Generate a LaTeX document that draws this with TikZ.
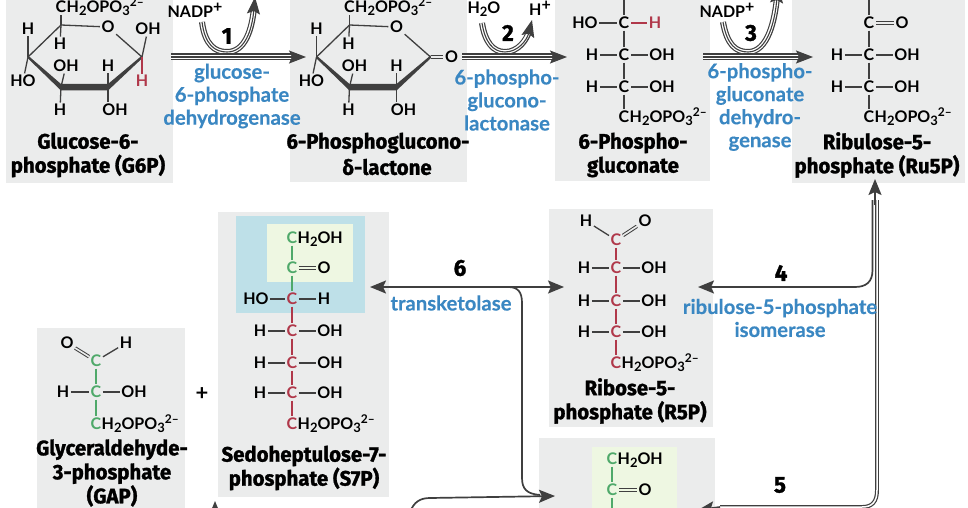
\documentclass[tikz,border=0pt]{standalone}
\usepackage{fontspec}
\usetikzlibrary{arrows.meta}
\setmainfont{Lato}
\newfontfamily\namefam[FakeBold=1.3,FakeStretch=0.97]{Fira Sans}
\newfontfamily\atomfam{Lato}
\newfontfamily\enzfam[FakeBold=0.3]{Lato}
\definecolor{dk}{HTML}{3F3F3F}
\definecolor{panelgray}{HTML}{EBECEC}
\definecolor{enz}{HTML}{3A87C2}
\definecolor{redc}{HTML}{B0384A}
\definecolor{greenc}{HTML}{4FA96A}
\definecolor{hlblue}{HTML}{BEE0E8}
\definecolor{hlgreen}{HTML}{EEF7E2}
\newcommand{\lowr}[1]{\raisebox{-3pt}{\fontsize{13}{13}\selectfont #1}}
\newcommand{\upr}{\raisebox{6pt}{\fontsize{12}{12}\selectfont 2–}}
\tikzset{
 x=1pt,y=-1pt,
 panel/.style={fill=panelgray,draw=none,inner sep=0,outer sep=0},
 hl/.style={draw=none,inner sep=0,outer sep=0},
 atomstyle/.style={font=\atomfam\fontsize{16}{16}\selectfont\bfseries,text=black,inner sep=1.5pt},
 bond/.style={draw=dk,line width=1.3pt},
 dbl/.style={draw=dk,line width=1pt,double=panelgray,double distance=1.6pt},
 namefont/.style={font=\namefam\fontsize{21}{24}\selectfont\bfseries,align=center,text=black,inner sep=0},
 enzyme/.style={font=\enzfam\fontsize{20.3}{23}\selectfont\bfseries,align=center,text=enz,inner sep=0},
 stepnum/.style={font=\namefam\fontsize{23}{23}\selectfont\bfseries,text=black,inner sep=0},
 tri/.style={draw=dk,line width=1.1pt,-{Stealth[length=17pt,width=13pt,inset=3pt]},
   preaction={draw=dk,line width=#1,arrows=-,shorten >=10pt},
   preaction={draw=white,line width=#1-2.4pt,arrows=-,shorten >=8pt}},
 conn/.style={draw=dk,line width=1.7pt},
 tipped/.style={-{Stealth[length=16pt,width=13pt,inset=3pt]}},
}
\newcommand{\panelbox}[6][panel,fill=panelgray]{%
 \pgfmathsetmacro\pw{#5-#3}\pgfmathsetmacro\ph{#6-#4}%
 \node[#1,minimum width=\pw pt,minimum height=\ph pt] (#2) at ({(#3+#5)/2},{(#4+#6)/2}) {};}
\newcommand{\atom}[5][black]{\node[atomstyle,text=#1] (#2) at (#3,#4) {#5};}
\newcommand{\bnd}[3][dk]{\draw[bond,draw=#1] (#2) -- (#3);}
\newcommand{\chgroup}[5][black]{%
 \node[atomstyle,text=#1] (#2) at (#3,#4) {C};
 \node[atomstyle,anchor=base west,inner sep=0] (#2r) at ([xshift=-1.5pt]#2.base east) {#5};}
\newcommand{\ringmol}[1]{%
 \coordinate (#1c1) at (61,25);
 \coordinate (#1c2) at (28,57);
 \coordinate (#1c3) at (61,87);
 \coordinate (#1c4) at (108,87);
 \coordinate (#1c5) at (142,57);
 \fill[dk] (28,55.5) -- (61,84) -- (108,84) -- (142,55.5) -- (142.5,58) -- (108,90.5) -- (61,90.5) -- (27.5,58) -- cycle;
 \atom{#1o}{108}{27}{O}
 \atom{#1a}{28}{29}{H}
 \atom{#1b}{60}{44}{H}
 \atom{#1d}{66}{66}{OH}
 \atom{#1e}{108}{66}{H}
 \atom{#1f}{23}{81}{HO}
 \atom{#1g}{60}{110}{H}
 \atom{#1i}{115}{110}{OH}
 \chgroup{#1ch}{61}{7}{H\lowr{2}OPO\lowr{3}\upr}
 \bnd{#1c1}{#1c2}
 \bnd{#1c1}{#1o}
 \bnd{#1o}{#1c5}
 \bnd{#1c1}{#1ch}
 \bnd{#1c1}{#1b}
 \bnd{#1c2}{#1a}
 \bnd{#1c2}{#1f}
 \bnd{#1c3}{#1d}
 \bnd{#1c3}{#1g}
 \bnd{#1c4}{#1e}
 \draw[bond] (#1c4) -- (#1c4 |- #1i.north);
}
\begin{document}
\begin{tikzpicture}
\fill[white] (0,0) rectangle (968,508);
\useasboundingbox (0,0) rectangle (968,508);
\clip (0,0) rectangle (968,508);
% panels
\panelbox{g6p}{6}{0}{173}{183}
\panelbox{pgl}{290}{0}{467}{182}
\panelbox{pg}{555}{0}{710}{181}
\panelbox{ru5p}{792}{0}{965}{183}
\panelbox{gap}{37}{328}{185}{520}
\panelbox{s7p}{218}{212}{389}{497}
\panelbox[hl,fill=hlblue]{s7pb}{236}{216}{365}{313}
\panelbox[hl,fill=hlgreen]{s7pg}{267}{224}{353}{282}
\panelbox{r5p}{549}{209}{713}{427}
\panelbox{xp}{539}{438}{715}{520}
\panelbox[hl,fill=hlgreen]{xpg}{592}{447}{677}{520}
% G6P
\ringmol{m}
\atom{moh}{148}{29}{OH}
\atom[redc]{mrh}{142}{81}{H}
\bnd{mc5}{moh}
\bnd[redc]{mc5}{mrh}
\node[namefont] (g6pn) at (88,155) {Glucose-6-\\phosphate (G6P)};
% 6PGL
\begin{scope}[shift={(288.5,0)}]
\ringmol{n}
\atom{nco}{163}{57}{O}
\draw[dbl] (nc5) -- (nco);
\end{scope}
\node[namefont] (pgln1) at (378,143) {6-Phosphoglucono-};
\node[namefont] (pgln2) at (387,167) {δ-lactone};
% 6PG
\coordinate (pgtop) at (624,0);
\atom{pa1}{585}{23}{HO}\atom{pc1}{624}{23}{C}\atom[redc]{pb1}{655}{23}{H}
\atom{pa2}{592}{55}{H}\atom{pc2}{624}{55}{C}\atom{pb2}{662}{55}{OH}
\atom{pa3}{592}{87}{H}\atom{pc3}{624}{87}{C}\atom{pb3}{662}{87}{OH}
\chgroup{pc4}{624}{117}{H\lowr{2}OPO\lowr{3}\upr}
\bnd{pgtop}{pc1}\bnd{pc1}{pc2}\bnd{pc2}{pc3}\bnd{pc3}{pc4}
\bnd{pa1}{pc1}\bnd[redc]{pc1}{pb1}\bnd{pa2}{pc2}\bnd{pc2}{pb2}\bnd{pa3}{pc3}\bnd{pc3}{pb3}
\node[namefont] (pgn) at (633,155) {6-Phospho-\\gluconate};
% Ru5P
\chgroup{rc0}{869}{-9}{H\lowr{2}OH}
\atom{rc1}{869}{23}{C}\atom{ro}{902}{23}{O}
\atom{ra2}{837}{55}{H}\atom{rc2}{869}{55}{C}\atom{rb2}{907}{55}{OH}
\atom{ra3}{837}{87}{H}\atom{rc3}{869}{87}{C}\atom{rb3}{907}{87}{OH}
\chgroup{rc4}{869}{117}{H\lowr{2}OPO\lowr{3}\upr}
\bnd{rc0}{rc1}\bnd{rc1}{rc2}\bnd{rc2}{rc3}\bnd{rc3}{rc4}
\draw[dbl] (rc1) -- (ro);
\bnd{ra2}{rc2}\bnd{rc2}{rb2}\bnd{ra3}{rc3}\bnd{rc3}{rb3}
\node[namefont] (rn) at (877,155) {Ribulose-5-\\phosphate (Ru5P)};
% GAP
\atom{go}{67}{343}{O}\atom{gh}{126}{343}{H}\atom[greenc]{gc1}{96}{361}{C}
\atom{ga2}{63}{392}{H}\atom[greenc]{gc2}{96}{392}{C}\atom{gb2}{134}{392}{OH}
\chgroup[greenc]{gc3}{96}{424}{H\lowr{2}OPO\lowr{3}\upr}
\draw[dbl] (gc1) -- (go);
\bnd{gc1}{gh}\bnd[greenc]{gc1}{gc2}\bnd[greenc]{gc2}{gc3}\bnd{ga2}{gc2}\bnd{gc2}{gb2}
\node[namefont] (gapn) at (112,473) {Glyceraldehyde-\\3-phosphate\\(GAP)};
\node[font=\atomfam\fontsize{22}{22}\selectfont\bfseries,inner sep=0] (plus) at (202,394) {+};
% S7P
\chgroup[greenc]{sc1}{292}{238}{H\lowr{2}OH}
\atom[greenc]{sc2}{292}{268}{C}\atom{so}{324}{268}{O}
\atom{sa3}{256}{299}{HO}\atom[redc]{sc3}{292}{299}{C}\atom{sb3}{324}{299}{H}
\atom{sa4}{260}{331}{H}\atom[redc]{sc4}{292}{331}{C}\atom{sb4}{330}{331}{OH}
\atom{sa5}{260}{363}{H}\atom[redc]{sc5}{292}{363}{C}\atom{sb5}{330}{363}{OH}
\atom{sa6}{260}{393}{H}\atom[redc]{sc6}{292}{393}{C}\atom{sb6}{330}{393}{OH}
\chgroup[redc]{sc7}{292}{424}{H\lowr{2}OPO\lowr{3}\upr}
\bnd[greenc]{sc1}{sc2}\bnd[greenc]{sc2}{sc3}\bnd[redc]{sc3}{sc4}\bnd[redc]{sc4}{sc5}\bnd[redc]{sc5}{sc6}\bnd[redc]{sc6}{sc7}
\draw[dbl,double=hlgreen] (sc2) -- (so);
\bnd{sa3}{sc3}\bnd{sc3}{sb3}\bnd{sa4}{sc4}\bnd{sc4}{sb4}\bnd{sa5}{sc5}\bnd{sc5}{sb5}\bnd{sa6}{sc6}\bnd{sc6}{sb6}
\node[namefont] (s7pn) at (304,468) {Sedoheptulose-7-\\phosphate (S7P)};
% R5P
\atom{qh}{586}{221}{H}\atom{qo}{645}{221}{O}\atom[redc]{qc1}{616}{240}{C}
\atom{qa2}{584}{268}{H}\atom[redc]{qc2}{616}{268}{C}\atom{qb2}{654}{268}{OH}
\atom{qa3}{584}{301}{H}\atom[redc]{qc3}{616}{301}{C}\atom{qb3}{654}{301}{OH}
\atom{qa4}{584}{332}{H}\atom[redc]{qc4}{616}{332}{C}\atom{qb4}{654}{332}{OH}
\chgroup[redc]{qc5}{616}{363}{H\lowr{2}OPO\lowr{3}\upr}
\bnd{qh}{qc1}\draw[dbl] (qc1) -- (qo);
\bnd[redc]{qc1}{qc2}\bnd[redc]{qc2}{qc3}\bnd[redc]{qc3}{qc4}\bnd[redc]{qc4}{qc5}
\bnd{qa2}{qc2}\bnd{qc2}{qb2}\bnd{qa3}{qc3}\bnd{qc3}{qb3}\bnd{qa4}{qc4}\bnd{qc4}{qb4}
\node[namefont] (r5pn) at (630,401) {Ribose-5-\\phosphate (R5P)};
% X5P (cropped)
\chgroup[greenc]{xc1}{612}{459}{H\lowr{2}OH}
\atom[greenc]{xc2}{612}{490}{C}\atom{xo}{645}{490}{O}
\coordinate (xc3) at (612,515);
\bnd[greenc]{xc1}{xc2}\bnd[greenc]{xc2}{xc3}
\draw[dbl,double=hlgreen] (xc2) -- (xo);
% reaction arrows 1-3
\coordinate (a1s) at (171,57);\coordinate (a1e) at (306,57);
\coordinate (a2s) at (462,57);\coordinate (a2e) at (567,57);
\coordinate (a3s) at (703,57);\coordinate (a3e) at (813,57);
\coordinate (h1s) at (202,22);\coordinate (h1b) at (227,52);\coordinate (h1e) at (255,-3);
\coordinate (h2s) at (482,23);\coordinate (h2b) at (505,52);\coordinate (h2e) at (532,20);
\coordinate (h3s) at (723,22);\coordinate (h3b) at (748,52);\coordinate (h3e) at (778,-14);
\draw[tri=6pt] (h1s) .. controls (205,45) and (215,52) .. (h1b) .. controls (245,52) and (252,30) .. (h1e);
\draw[tri=6pt] (h2s) .. controls (485,42) and (493,52) .. (h2b) .. controls (518,52) and (527,40) .. (h2e);
\draw[tri=6pt] (h3s) .. controls (727,45) and (736,52) .. (h3b) .. controls (768,52) and (775,20) .. (h3e);
\draw[tri=7pt] (a1s) -- (a1e);
\draw[tri=7pt] (a2s) -- (a2e);
\draw[tri=7pt] (a3s) -- (a3e);
\node[atomstyle,inner sep=0] (nadp1) at (195,10) {NADP\raisebox{5pt}{+}};
\node[atomstyle,inner sep=0] (nadp3) at (727,10) {NADP\raisebox{5pt}{+}};
\node[atomstyle,inner sep=0] (h2o) at (484,9) {H\lowr{2}O};
\node[atomstyle,inner sep=0] (hplus) at (540,8) {H\raisebox{5pt}{+}};
\node[stepnum] (s1) at (227,36) {1};
\node[stepnum] (s2) at (508,33) {2};
\node[stepnum] (s3) at (751,33) {3};
\node[enzyme] (e1) at (232,96) {glucose-\\6-phosphate\\dehydrogenase};
\node[enzyme] (e2) at (507,100) {6-phospho-\\glucono-\\lactonase};
\node[enzyme] (e3) at (760,107) {6-phospho-\\gluconate\\dehydro-\\genase};
% lower connectors
\coordinate (a6l) at (370,287);\coordinate (a6r) at (564,287);
\coordinate (a6b) at (508,287);\coordinate (bt) at (555,496);
\coordinate (bfree) at (410,512);
\draw[conn,{Stealth[length=16pt,width=13pt,inset=3pt]}-{Stealth[length=16pt,width=13pt,inset=3pt]}] (a6l) -- (a6r);
\draw[conn] (a6b) .. controls (518,287) and (522,292) .. (522,303) -- (522,478) .. controls (522,489) and (527,494) .. (540,495);
\draw[conn,tipped] (bfree) .. controls (414,502) and (420,498) .. (430,498) -- (bt);
\coordinate (up) at (875,179);\coordinate (ups) at (875,205);
\coordinate (a4) at (698,287);\coordinate (a5) at (698,510);\coordinate (a5s) at (720,507);
\draw[conn] (872.5,200) -- (872.5,270) .. controls (872.5,282) and (866,287) .. (855,287) -- (715,287);
\draw[conn,tipped] (740,287) -- (a4);
\draw[draw=dk,line width=1.2pt,double=white,double distance=1.5pt] (877,200) -- (877,490) .. controls (877,502) and (872,507) .. (862,507) -- (a5s);
\draw[conn,tipped] (a5s) -- (a5);
\draw[conn,tipped] (ups) -- (up);
\coordinate (g) at (215,520);\coordinate (gt) at (215,501);
\draw[conn,tipped] (g) -- (gt);
\node[stepnum] (s4) at (781,273) {4};
\node[stepnum] (s5) at (780,485) {5};
\node[stepnum] (s6) at (460,268) {6};
\node[enzyme] (e6) at (451,303) {transketolase};
\node[enzyme] (e4) at (780,318) {ribulose-5-phosphate\\isomerase};
\end{tikzpicture}
\end{document}
